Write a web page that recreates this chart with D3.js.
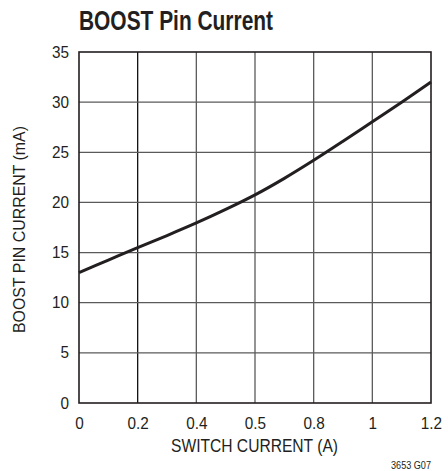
<!DOCTYPE html>
<html><head><meta charset="utf-8">
<script src="https://cdn.jsdelivr.net/npm/d3@7"></script>
<style>
body{margin:0;background:#fff;}
text{font-family:"Liberation Sans",Arial,sans-serif;fill:#231f20;}
</style></head>
<body><svg id="c" width="448" height="471"></svg>
<script>
const switchCurrent = [0, 0.1, 0.2, 0.3, 0.4, 0.5, 0.6, 0.7, 0.8, 0.9, 1.0, 1.1, 1.2];
const boostCurrent = [13.0, 14.25, 15.5, 16.7, 17.95, 19.3, 20.75, 22.4, 24.2, 26.1, 28.05, 30.0, 32.0];
const xTickValues = [0, 0.2, 0.4, 0.6, 0.8, 1.0, 1.2];
const xTickLabels = ["0", "0.2", "0.4", "0.5", "0.8", "1", "1.2"];
const yTickValues = [0, 5, 10, 15, 20, 25, 30, 35];

const svg = d3.select("#c");
const L = 79, R = 431, T = 52, B = 403;
const x = d3.scaleLinear().domain([0, 1.2]).range([L, R]);
const y = d3.scaleLinear().domain([0, 35]).range([B, T]);

// grid
svg.append("g").selectAll("line").data(xTickValues.slice(1, -1)).join("line")
  .attr("x1", d => x(d)).attr("x2", d => x(d)).attr("y1", T).attr("y2", B)
  .attr("stroke", (d, i) => i === 0 ? "#111" : "#5a5a5a").attr("stroke-width", 1.3);
svg.append("g").selectAll("line").data(yTickValues.slice(1, -1)).join("line")
  .attr("x1", L).attr("x2", R).attr("y1", d => y(d)).attr("y2", d => y(d))
  .attr("stroke", "#5a5a5a").attr("stroke-width", 1.3);
svg.append("rect").attr("x", L).attr("y", T).attr("width", R - L).attr("height", B - T)
  .attr("fill", "none").attr("stroke", "#231f20").attr("stroke-width", 1.6);

// axes (labels only)
const xAxis = d3.axisBottom(x).tickValues(xTickValues).tickSize(0).tickPadding(0)
  .tickFormat((d, i) => xTickLabels[i]);
const gx = svg.append("g").attr("transform", `translate(0,${B})`).call(xAxis);
gx.select(".domain").remove();
gx.selectAll("text").attr("font-size", 17).attr("fill", "#231f20").attr("y", 26).attr("dy", null)
  .attr("transform", "scale(0.9,1)")
  .style("font-family", '"Liberation Sans",Arial,sans-serif');

const yAxis = d3.axisLeft(y).tickValues(yTickValues).tickSize(0).tickPadding(0);
const gy = svg.append("g").attr("transform", `translate(${L - 10},0)`).call(yAxis);
gy.select(".domain").remove();
gy.selectAll("text").attr("font-size", 17).attr("fill", "#231f20").attr("x", 0).attr("dy", null).attr("y", 5)
  .attr("transform", "scale(0.9,1)")
  .style("font-family", '"Liberation Sans",Arial,sans-serif');

// curve
const line = d3.line().x((d, i) => x(switchCurrent[i])).y(d => y(d)).curve(d3.curveCatmullRom);
svg.append("path").datum(boostCurrent).attr("d", line)
  .attr("fill", "none").attr("stroke", "#231f20").attr("stroke-width", 3);

// titles
svg.append("text").attr("x", 79).attr("y", 30).attr("font-size", 27).attr("font-weight", "bold")
  .attr("textLength", 194).attr("lengthAdjust", "spacingAndGlyphs")
  .text("BOOST Pin Current");
svg.append("text").attr("x", 171).attr("y", 452)
  .attr("font-size", 18).attr("textLength", 167).attr("lengthAdjust", "spacingAndGlyphs")
  .text("SWITCH CURRENT (A)");
svg.append("text").attr("transform", `translate(25,333) rotate(-90)`)
  .attr("font-size", 17).attr("textLength", 207).attr("lengthAdjust", "spacingAndGlyphs")
  .text("BOOST PIN CURRENT (mA)");
svg.append("text").attr("x", 431).attr("y", 469).attr("text-anchor", "end")
  .attr("font-size", 10).attr("textLength", 40).attr("lengthAdjust", "spacingAndGlyphs")
  .text("3653 G07");
</script></body></html>
